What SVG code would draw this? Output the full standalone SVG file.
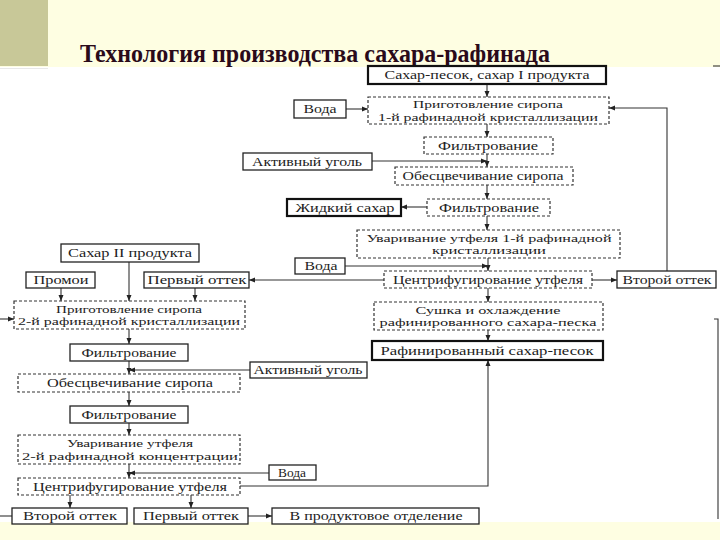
<svg xmlns="http://www.w3.org/2000/svg" width="720" height="540" viewBox="0 0 720 540" font-family="'Liberation Serif', 'Times New Roman', serif">
<defs>
<marker id="ar" viewBox="0 0 6 6" refX="6" refY="3" markerWidth="6" markerHeight="6" markerUnits="userSpaceOnUse" orient="auto">
<path d="M0,0.5 L6,3 L0,5.5 z" fill="#222"/>
</marker>
<style>
.s{fill:#fff;stroke:#222;stroke-width:1.3}
.t{fill:#fff;stroke:#111;stroke-width:2.2}
.d{fill:#fff;stroke:#333;stroke-width:1.2;stroke-dasharray:3 2}
.l{font-size:12px;fill:#222;text-anchor:middle}
.m{font-size:11px;fill:#222;text-anchor:middle}
.c line,.c polyline{stroke:#333;stroke-width:1.1;fill:none}
</style>
</defs>
<rect x="0" y="0" width="720" height="540" fill="#FEFEE2"/>
<rect x="0" y="0" width="48" height="66" fill="#C8C898"/>
<rect x="0" y="67" width="720" height="455" fill="#FFFFFF"/>
<line x1="0" y1="68.5" x2="48" y2="68.5" stroke="#E8E8E8" stroke-width="1"/>
<text x="80" y="62" textLength="470" lengthAdjust="spacingAndGlyphs" font-size="26" font-weight="bold" fill="#2A0A1A">Технология производства сахара-рафинада</text>

<g class="c">
<line x1="487" y1="84" x2="487" y2="97" marker-end="url(#ar)"/>
<line x1="346" y1="109" x2="368" y2="109" marker-end="url(#ar)"/>
<line x1="487" y1="124" x2="487" y2="137" marker-end="url(#ar)"/>
<line x1="487" y1="154" x2="487" y2="167" marker-end="url(#ar)"/>
<line x1="372" y1="161" x2="487" y2="161" marker-end="url(#ar)"/>
<line x1="487" y1="185" x2="487" y2="199" marker-end="url(#ar)"/>
<line x1="427" y1="207" x2="401" y2="207" marker-end="url(#ar)"/>
<line x1="487" y1="216" x2="487" y2="230" marker-end="url(#ar)"/>
<line x1="488" y1="258" x2="488" y2="271" marker-end="url(#ar)"/>
<line x1="345" y1="266" x2="488" y2="266" marker-end="url(#ar)"/>
<line x1="592" y1="280" x2="617" y2="280" marker-end="url(#ar)"/>
<polyline points="667,271 667,108 609,108" marker-end="url(#ar)"/>
<line x1="384" y1="280" x2="249" y2="280" marker-end="url(#ar)"/>
<line x1="488" y1="288" x2="488" y2="302" marker-end="url(#ar)"/>
<line x1="488" y1="330" x2="488" y2="341" marker-end="url(#ar)"/>
<polyline points="240,486 488,486 488,360" marker-end="url(#ar)"/>
<line x1="129" y1="262" x2="129" y2="301" marker-end="url(#ar)"/>
<line x1="61" y1="288" x2="61" y2="301" marker-end="url(#ar)"/>
<line x1="195" y1="288" x2="195" y2="301" marker-end="url(#ar)"/>
<line x1="0" y1="319" x2="14" y2="319" marker-end="url(#ar)"/>
<line x1="129" y1="329" x2="129" y2="344" marker-end="url(#ar)"/>
<line x1="129" y1="361" x2="129" y2="374" marker-end="url(#ar)"/>
<line x1="250" y1="370" x2="129" y2="370" marker-end="url(#ar)"/>
<line x1="129" y1="392" x2="129" y2="406" marker-end="url(#ar)"/>
<line x1="129" y1="423" x2="129" y2="435" marker-end="url(#ar)"/>
<line x1="129" y1="464" x2="129" y2="478" marker-end="url(#ar)"/>
<line x1="269" y1="473" x2="129" y2="473" marker-end="url(#ar)"/>
<line x1="70" y1="495" x2="70" y2="508" marker-end="url(#ar)"/>
<line x1="191" y1="495" x2="191" y2="508" marker-end="url(#ar)"/>
<line x1="248" y1="516" x2="272" y2="516" marker-end="url(#ar)"/>
<line x1="0" y1="516" x2="12" y2="516"/>
<polyline points="714,319 718,319 718,519"/>
<line x1="713" y1="66" x2="720" y2="66"/>
</g>

<g id="n1"><rect class="t" x="368" y="66" width="238" height="18"/><text class="l" x="487" y="79" textLength="205" lengthAdjust="spacingAndGlyphs">Сахар-песок, сахар I продукта</text></g>
<g id="n2"><rect class="s" x="294" y="100" width="52" height="18"/><text class="l" x="320" y="113" textLength="33" lengthAdjust="spacingAndGlyphs">Вода</text></g>
<g id="n3"><rect class="d" x="368" y="97" width="241" height="27"/><text class="m" x="488" y="108" textLength="150" lengthAdjust="spacingAndGlyphs">Приготовление сиропа</text><text class="m" x="488" y="120.5" textLength="220" lengthAdjust="spacingAndGlyphs">1-й рафинадной кристаллизации</text></g>
<g id="n4"><rect class="d" x="424" y="137" width="129" height="17"/><text class="l" x="488" y="150" textLength="100" lengthAdjust="spacingAndGlyphs">Фильтрование</text></g>
<g id="n5"><rect class="s" x="243" y="153" width="129" height="17"/><text class="l" x="307" y="166" textLength="110" lengthAdjust="spacingAndGlyphs">Активный уголь</text></g>
<g id="n6"><rect class="d" x="395" y="167" width="178" height="18"/><text class="l" x="483" y="180" textLength="161" lengthAdjust="spacingAndGlyphs">Обесцвечивание сиропа</text></g>
<g id="n7"><rect class="t" x="287" y="199" width="114" height="17"/><text class="l" x="345" y="212" textLength="99" lengthAdjust="spacingAndGlyphs">Жидкий сахар</text></g>
<g id="n8"><rect class="d" x="427" y="199" width="123" height="17"/><text class="l" x="489" y="212" textLength="100" lengthAdjust="spacingAndGlyphs">Фильтрование</text></g>
<g id="n9"><rect class="d" x="357" y="230" width="263" height="28"/><text class="m" x="489" y="241.5" textLength="245" lengthAdjust="spacingAndGlyphs">Уваривание утфеля 1-й рафинадной</text><text class="m" x="489" y="254" textLength="114" lengthAdjust="spacingAndGlyphs">кристаллизации</text></g>
<g id="n10"><rect class="s" x="295" y="258" width="50" height="16"/><text class="l" x="321" y="270" textLength="33" lengthAdjust="spacingAndGlyphs">Вода</text></g>
<g id="n11"><rect class="d" x="384" y="271" width="208" height="17"/><text class="l" x="488" y="284" textLength="190" lengthAdjust="spacingAndGlyphs">Центрифугирование утфеля</text></g>
<g id="n12"><rect class="s" x="617" y="271" width="99" height="17"/><text class="l" x="667" y="284" textLength="89" lengthAdjust="spacingAndGlyphs">Второй оттек</text></g>
<g id="n13"><rect class="d" x="374" y="302" width="229" height="28"/><text class="m" x="488" y="313.5" textLength="145" lengthAdjust="spacingAndGlyphs">Сушка и охлаждение</text><text class="m" x="488" y="326" textLength="217" lengthAdjust="spacingAndGlyphs">рафинированного сахара-песка</text></g>
<g id="n14"><rect class="t" x="372" y="341" width="231" height="19"/><text class="l" x="487" y="355" textLength="213" lengthAdjust="spacingAndGlyphs">Рафинированный сахар-песок</text></g>

<g id="n15"><rect class="s" x="61" y="244" width="138" height="18"/><text class="l" x="130" y="257" textLength="124" lengthAdjust="spacingAndGlyphs">Сахар II продукта</text></g>
<g id="n16"><rect class="s" x="26" y="272" width="69" height="16"/><text class="l" x="61" y="284" textLength="55" lengthAdjust="spacingAndGlyphs">Промои</text></g>
<g id="n17"><rect class="s" x="144" y="272" width="105" height="16"/><text class="l" x="197" y="284" textLength="99" lengthAdjust="spacingAndGlyphs">Первый оттек</text></g>
<g id="n18"><rect class="d" x="14" y="301" width="231" height="28"/><text class="m" x="129" y="312.5" textLength="146" lengthAdjust="spacingAndGlyphs">Приготовление сиропа</text><text class="m" x="129" y="325" textLength="222" lengthAdjust="spacingAndGlyphs">2-й рафинадной кристаллизации</text></g>
<g id="n19"><rect class="s" x="70" y="344" width="118" height="17"/><text class="l" x="129" y="357" textLength="95" lengthAdjust="spacingAndGlyphs">Фильтрование</text></g>
<g id="n20"><rect class="s" x="250" y="362" width="117" height="16"/><text class="l" x="308" y="374" textLength="109" lengthAdjust="spacingAndGlyphs">Активный уголь</text></g>
<g id="n21"><rect class="d" x="18" y="374" width="222" height="18"/><text class="l" x="130" y="387" textLength="166" lengthAdjust="spacingAndGlyphs">Обесцвечивание сиропа</text></g>
<g id="n22"><rect class="s" x="70" y="406" width="118" height="17"/><text class="l" x="129" y="419" textLength="95" lengthAdjust="spacingAndGlyphs">Фильтрование</text></g>
<g id="n23"><rect class="d" x="18" y="435" width="222" height="29"/><text class="m" x="130" y="446.5" textLength="126" lengthAdjust="spacingAndGlyphs">Уваривание утфеля</text><text class="m" x="130" y="459.5" textLength="216" lengthAdjust="spacingAndGlyphs">2-й рафинадной концентрации</text></g>
<g id="n24"><rect class="s" x="269" y="465" width="47" height="15"/><text class="l" x="292" y="477" textLength="28" lengthAdjust="spacingAndGlyphs">Вода</text></g>
<g id="n25"><rect class="d" x="18" y="478" width="222" height="17"/><text class="l" x="130" y="491" textLength="194" lengthAdjust="spacingAndGlyphs">Центрифугирование утфеля</text></g>
<g id="n26"><rect class="s" x="12" y="508" width="115" height="16"/><text class="l" x="70" y="520" textLength="94" lengthAdjust="spacingAndGlyphs">Второй оттек</text></g>
<g id="n27"><rect class="s" x="134" y="508" width="114" height="16"/><text class="l" x="191" y="520" textLength="96" lengthAdjust="spacingAndGlyphs">Первый оттек</text></g>
<g id="n28"><rect class="s" x="272" y="508" width="207" height="16"/><text class="l" x="376" y="520" textLength="173" lengthAdjust="spacingAndGlyphs">В продуктовое отделение</text></g>
</svg>
